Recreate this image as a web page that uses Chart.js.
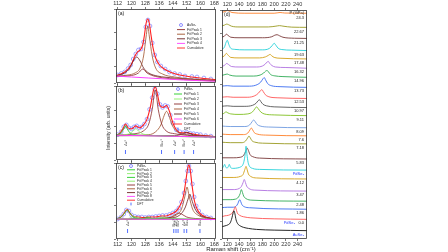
<!DOCTYPE html>
<html><head><meta charset="utf-8">
<script src="https://cdn.jsdelivr.net/npm/chart.js@4.4.0/dist/chart.umd.min.js"></script>
<style>
body{margin:0;background:#fff;width:448px;height:252px;overflow:hidden;position:relative;font-family:"Liberation Sans",Arial,sans-serif}
canvas{position:absolute;left:0;top:0}
.t{position:absolute;color:#222;white-space:nowrap;transform:translate(-50%,-50%)}
</style></head><body>
<canvas id="ca" width="448" height="252"></canvas>
<canvas id="cb" width="448" height="252"></canvas>
<canvas id="cc" width="448" height="252"></canvas>
<canvas id="cd" width="448" height="252"></canvas>
<div class="t" style="left:108px;top:128px;font-size:5px;transform:translate(-50%,-50%) rotate(-90deg)">Intensity (arb. units)</div>
<div class="t" style="left:231px;top:249px;font-size:6px">Raman shift (cm⁻¹)</div>
<script>
// tick labels
var xTicksLeft = [112,120,128,136,144,152,160,168];
var xTicksRight = [120,140,160,180,200,220,240];

// ---- panel (a) AuSe2
var aData = [[112,8],[114,9.5],[116,11],[118,14.5],[119.5,18],[121,24],[122.5,29],[124,33],[125.5,34],[127,41],[128.3,56],[129.5,63],[130.7,57],[132,40],[133.5,28],[135,21],[137,17],[139.5,14],[142,11],[145,9.5],[148,8.5],[151,7],[155,6.5],[158,6],[162,5],[166,4]];
var aPeak1 = [[110,6.5],[120,7.5],[124,10],[126.5,14],[129,10],[134,6.5],[150,3.5],[169,2]];
var aPeak2 = [[110,6.5],[118,8],[122,10],[125,15],[127,27],[128.5,47],[129.4,57],[130.3,47],[132,27],[134,15],[138,9],[145,6],[155,4],[169,2.5]];
var aPeak3 = [[110,7],[116,10],[119,15],[121,22],[123,26],[125,22],[127,15],[130,10],[135,7],[145,5],[169,2.5]];
var aPeak4 = [[110,7],[120,6],[130,5],[140,4],[150,3],[160,2.3],[169,1.8]];
var aCum = [[110,7],[113,8.5],[116,11],[118,14],[120,19],[122,27],[123.5,31],[125,33],[126.5,38],[127.5,48],[128.5,60],[129.4,64],[130.3,60],[131.3,48],[132.5,35],[134,25],[136,18.5],[139,14],[143,10.5],[148,8],[155,6],[162,4.5],[169,3.5]];
var aLegend = ['AuSe₂','Fit Peak 1','Fit Peak 2','Fit Peak 3','Fit Peak 4','Cumulative'];

// ---- panel (b) PdSe2
var bData = [[112,26],[114,29],[115.5,34],[117,36],[118.5,33],[120,32],[121.5,34],[123,35],[124.5,33],[126,34],[127.5,37],[129,42],[130.5,52],[132,64],[133.5,73],[135,68],[136.5,57],[138,54],[139.5,56],[141,55],[142.5,46],[144,38],[146,31],[148,29],[150,28],[152,28.5],[154,27.5],[156,27],[158,26.5],[160,26],[163,25],[166,24.5]];
var bPeak1 = [[110,25.5],[114,28],[115.5,32],[116.5,35],[117.5,32],[119,28],[122,26],[130,25],[169,23.5]];
var bPeak2 = [[110,25.5],[118,26.5],[120.5,29],[122.5,32],[124.5,29],[127,26.5],[135,25],[169,23.5]];
var bPeak3 = [[110,25.5],[122,27],[127,30],[130,37],[132,52],[133.8,72],[135.5,52],[137.5,37],[140,30],[145,27],[155,25],[169,24]];
var bPeak4 = [[110,25],[130,26],[134,29],[137,36],[139,46],[140.3,50],[141.6,46],[143.5,36],[146.5,29],[152,26],[169,24]];
var bPeak5 = [[110,25],[145,25],[150,27],[152,28.5],[154,27],[158,25],[169,24]];
var bPeak6 = [[110,25.5],[140,24.5],[169,23.5]];
var bCum = [[110,25],[113,27],[115,32],[116.5,37],[118,33],[120,32],[122.5,35],[124.5,33],[127,36],[129,42],[131,55],[132.8,72],[133.8,75],[135,68],[136.5,56],[138.5,54],[140.3,56],[142,50],[144,38],[146,31],[149,28],[152,28],[155,27],[158,26],[162,25],[169,24]];
var bLegend = ['PdSe₂','Fit Peak 1','Fit Peak 2','Fit Peak 3','Fit Peak 4','Fit Peak 5','Fit Peak 6','Cumulative','DFT'];
var bDft = [116.5,137.4,145,150.5,156];
var bDftLabels = ['A₉¹','B₁₉¹','A₉²','B₁₉²','A₉³'];

// ---- panel (c) PdSe2 (high P)
var cData = [[112,20],[114,22],[115.5,25],[117,29],[118.5,28],[120,24],[122,22.5],[124,22],[126,22],[128,21.5],[130,22],[132,22],[134,22.5],[136,23],[138,23.5],[140,23.5],[142,24.5],[144,26],[146,28],[147.5,31],[149,37],[150.5,46],[151.5,58],[152.5,68],[153.3,73],[154.3,68],[155.3,55],[156.3,42],[157.5,33],[159,28],[161,24],[163.5,22],[166,21]];
var cPeak1 = [[110,20],[114,22],[116,26],[117.5,29],[119,26],[121,22],[125,20.5],[140,20],[169,19.5]];
var cPeak2 = [[110,20],[118,20.5],[120,21.5],[121.5,22.5],[123,21.5],[126,20.5],[169,19.5]];
var cPeak3 = [[110,20],[125,20.3],[128,21],[129.5,21.8],[131,21],[134,20.3],[169,19.5]];
var cPeak4 = [[110,20],[133,20.3],[136.5,21.3],[138,22],[139.5,21.3],[143,20.3],[169,19.5]];
var cPeak5 = [[110,20],[138,20.5],[143,22],[146,25],[147.5,26],[149,25],[152,22],[157,20.5],[169,19.5]];
var cPeak6 = [[110,20],[140,21],[146,24],[149,30],[151,43],[152.2,52],[153.4,43],[155.4,30],[158.4,24],[164,21],[169,20]];
var cPeak7 = [[110,20],[142,21],[148,24],[151,31],[152.8,40],[153.8,45],[154.8,40],[156.6,31],[159.6,24],[165,21],[169,20]];
var cPeak8 = [[110,20],[169,19.5]];
var cCum = [[110,20],[113,21],[115,24],[117.5,29.5],[119,26],[121,22.5],[124,22],[127,21.5],[130,22],[134,22],[137,23],[140,23],[143,25],[146,28],[148,33],[150,42],[151.5,58],[152.5,70],[153.2,74],[154,70],[155,55],[156.5,38],[158,30],[160,25],[163,22],[169,20]];
var cLegend = ['PdSe₂','Fit Peak 1','Fit Peak 2','Fit Peak 3','Fit Peak 4','Fit Peak 5','Fit Peak 6','Fit Peak 7','Fit Peak 8','Cumulative','DFT'];
var cDft = [117.7,144.5,145.8,147,150.5,152,159.7];
var cDftLabels = ['A₉¹','B₁₉¹','A₉²','B₁₉²','A₉³','B₂₉','B₃₉'];

// ---- panel (d) pressure series, bottom to top
var dLabels = ['AuSe₂','0.0','1.86','2.48','3.47','4.12','PdSe₂','5.83','7.18','7.6','8.09','9.11','10.97','12.53','13.73','14.96','16.32','17.48','19.63','21.25','22.67','24.3'];
var dOffsets = [8,19,29,37,47,59,68,79,94,102,110,122,130,139,150,160,169,178,186,198,209,223];
var dSpectra = [
 [[110,4],[116,5],[121,6],[125,8],[128,13],[130,18],[131.5,20],[133,17],[135,11],[138,7],[142,5],[148,3.5],[156,2.5],[170,1.5],[200,0.8],[256,0.3]],
 [[110,3],[116,4],[122,4.5],[127,6],[130,8],[132,11],[133.5,13],[135,11],[137,7],[141,4.5],[148,3],[160,2],[200,1],[256,0.5]],
 [[110,2],[120,2.5],[130,2.5],[135,3.5],[138,6],[140,9],[141.5,10],[143,8],[145,5],[149,3],[158,2],[256,0.5]],
 [[110,2],[125,2],[134,2.5],[139,4.5],[142,8],[144,12],[146,9],[148,5.5],[152,3],[162,1.5],[256,0.5]],
 [[110,2],[130,2],[140,3],[144,5],[147,9],[149,12],[151,9],[153,5.5],[157,3],[166,1.5],[256,0.5]],
 [[110,2],[130,2],[142,3],[147,5],[150,10],[152,13],[154,9.5],[156,5.5],[160,3],[170,1.5],[256,0.5]],
 [[110,2],[113,3],[115.5,6],[117.5,3],[120,2.5],[122,4],[123.5,6],[125.5,3],[130,2],[138,2.5],[143,3.5],[146,5],[148.5,9],[150.5,16],[152,24],[153.5,16],[155.5,8],[158,4],[163,2],[175,1],[256,0.3]],
 [[110,1.5],[130,1.5],[142,2],[148,4],[151.5,8],[154,11],[156.5,8],[159,4.5],[164,2.5],[175,1.2],[256,0.3]],
 [[110,2],[125,1.5],[145,1.5],[151,3],[154.5,6],[157,8],[159.5,6],[162,3.5],[167,2],[180,1],[256,0.3]],
 [[110,2],[125,1.5],[148,1.5],[155,3],[158.5,6],[161,8],[163.5,6],[166,3.5],[171,2],[185,1],[256,0.3]],
 [[110,2],[125,1.5],[150,1.5],[158,3],[162,6],[165,8],[168,6],[171,3.5],[176,2],[190,1],[256,0.3]],
 [[110,1.5],[114,2.5],[118,4],[121,3],[126,2],[140,1.5],[155,2],[163,4],[167,7],[170,9],[173,7],[177,4],[183,2],[200,1],[256,0.3]],
 [[110,1.5],[120,2],[130,1.5],[150,1.5],[163,2.5],[169,4.5],[172.5,7],[175,8],[177.5,6],[181,3.5],[187,2],[200,1],[256,0.3]],
 [[110,1.5],[120,2],[130,1.5],[155,1.5],[167,3],[173,5.5],[176.5,8],[179,9],[181.5,7],[185,4],[191,2],[205,1],[256,0.3]],
 [[110,1.5],[120,2],[130,1.5],[158,1.5],[171,3],[177,5.5],[180.5,8.5],[183,10],[185.5,7.5],[189,4],[195,2],[210,1],[256,0.3]],
 [[110,2],[116,3],[120,3.5],[124,2.5],[135,1.5],[165,1.5],[176,2.5],[182,4.5],[185.5,6.5],[188,7],[190.5,5.5],[194,3],[200,1.8],[215,1],[256,0.3]],
 [[110,2],[115,3],[119,5],[122,4],[127,2],[140,1.5],[170,1.5],[180,2.5],[185,4.5],[188,6.5],[190,7],[192.5,5],[196,3],[202,1.5],[220,1],[256,0.3]],
 [[110,2],[115,3.5],[118.5,6],[121,4.5],[126,2],[140,1.5],[175,1.5],[185,2.5],[190,4],[193,5],[196,3.5],[200,2],[210,1.2],[256,0.5]],
 [[110,2],[115,4],[118,9],[120,11],[122.5,7],[126,3],[132,2],[150,1.5],[180,1.5],[192,3],[197,6],[200,8],[203,6],[207,3],[213,1.8],[230,1.2],[256,0.8]],
 [[110,2],[115,3],[118.5,5],[121,4],[126,2],[140,1.5],[180,1.5],[196,2.5],[201,4],[205,4.5],[209,3.5],[215,2],[235,1],[256,0.8]],
 [[110,2],[115,3],[119,4],[122,3.5],[127,2],[140,1.2],[190,1.2],[203,2],[209,2.5],[215,2],[230,1],[256,0.8]],
 [[110,1.5],[116,2.5],[120,3.5],[123,3],[128,1.5],[150,0.8],[200,0.8],[210,1.5],[218,1],[256,0.8]]
];
var dColors = ['#111111','#ff5555','#3a6cf0','#2faa55','#b070e0','#d4a017','#22d0d8','#7a3a3a','#9a9a20','#ff7f27','#6f9be0','#80c020','#555555','#ff5555','#3a6cf0','#2faa55','#b070e0','#d4a017','#22d0d8','#7a3a3a','#9a9a20','#ff7f27'];

var CIRC = '#8080ff', RED = '#ff2020', MAG = '#ff40ff', BR1 = '#8b2a2a', BR2 = '#a0522d', BR3 = '#6b1f1f', GR1 = '#22cc22', GR2 = '#88ee66', DFTC = '#4060ff';

function line(p, color, w, base) {
  base = base || 0;
  return {data: p.map(function(q){return {x:q[0], y:q[1]+base};}), borderColor: color, borderWidth: w || 0.8,
    pointRadius: 0, cubicInterpolationMode: 'monotone', fill: false};
}
function dots(p, color) {
  return {data: p.map(function(q){return {x:q[0], y:q[1]};}), showLine: false, pointRadius: 1.9,
    pointBorderWidth: 0.7, pointBorderColor: color, pointBackgroundColor: 'rgba(0,0,0,0)', borderColor: color};
}

var boxPlugin = {id: 'box', afterDraw: function(c) {
  var a = c.chartArea, ctx = c.ctx;
  ctx.save(); ctx.strokeStyle = '#333'; ctx.lineWidth = 0.8;
  ctx.strokeRect(a.left + 0.5, a.top + 0.5, a.right - a.left - 1, a.bottom - a.top - 1);
  ctx.restore();
}};

function legendPlugin(x, y, dy, labels, colors, kinds, tag) {
  return {id: 'lg', afterDraw: function(c) {
    var ctx = c.ctx; ctx.save();
    ctx.font = '3.3px "Liberation Sans"'; ctx.textBaseline = 'middle';
    labels.forEach(function(t, i) {
      var yy = y + i * dy; ctx.strokeStyle = colors[i]; ctx.lineWidth = 0.9;
      ctx.beginPath();
      if (kinds[i] === 'o') { ctx.arc(x + 4, yy, 1.5, 0, 7); }
      else if (kinds[i] === '|') { ctx.moveTo(x + 4, yy - 1.4); ctx.lineTo(x + 4, yy + 1.4); }
      else { ctx.moveTo(x, yy); ctx.lineTo(x + 8, yy); }
      ctx.stroke();
      ctx.fillStyle = '#222'; ctx.fillText(t, x + 10, yy);
    });
    ctx.font = '5px "Liberation Sans"'; ctx.textBaseline = 'top';
    ctx.fillText(tag, c.chartArea.left + 2, c.chartArea.top + 2);
    ctx.restore();
  }};
}

function dftPlugin(vals, labels, yTick, yText) {
  return {id: 'dft', afterDraw: function(c) {
    var ctx = c.ctx, sx = c.scales.x; ctx.save();
    ctx.strokeStyle = DFTC; ctx.lineWidth = 0.9;
    ctx.font = '4px "DejaVu Sans"'; ctx.fillStyle = '#333'; ctx.textBaseline = 'middle'; ctx.textAlign = 'center';
    vals.forEach(function(v, i) {
      var px = sx.getPixelForValue(v);
      ctx.beginPath(); ctx.moveTo(px, yTick - 2); ctx.lineTo(px, yTick + 2); ctx.stroke();
      ctx.save(); ctx.translate(px, yText); ctx.rotate(-Math.PI / 2); ctx.fillText(labels[i], 0, 0); ctx.restore();
    });
    ctx.restore();
  }};
}

function axis(pos, min, max, ticks, show, h) {
  return {type: 'linear', position: pos, min: min, max: max,
    afterBuildTicks: function(s){ s.ticks = ticks.map(function(v){return {value: v};}); },
    afterFit: function(s){ s.height = h; },
    ticks: {display: show, font: {size: 5.5, family: 'Liberation Sans'}, color: '#333', padding: 0, maxRotation: 0, autoSkip: false},
    grid: {drawOnChartArea: false, tickLength: 2, color: '#444', lineWidth: 0.7},
    border: {display: false}};
}

function panel(id, area, xr, yMax, ticks, showTop, showBottom, sets, extra) {
  var topH = showTop ? 9 : 2, botH = showBottom ? 9 : 2;
  return new Chart(document.getElementById(id), {
    type: 'line',
    data: {datasets: sets},
    options: {
      responsive: false, animation: false, events: [],
      layout: {padding: {left: area[0] - 2, top: area[1] - topH, right: 448 - area[2], bottom: 252 - area[3] - botH}},
      plugins: {legend: {display: false}, tooltip: {enabled: false}},
      scales: {
        x: axis('bottom', xr[0], xr[1], ticks, showBottom, botH),
        x2: axis('top', xr[0], xr[1], ticks, showTop, topH),
        y: {min: 0, max: yMax, afterFit: function(s){ s.width = 2; }, ticks: {display: false, stepSize: 17},
          grid: {drawOnChartArea: false, tickLength: 2, color: '#444', lineWidth: 0.7}, border: {display: false}}
      }
    },
    plugins: [boxPlugin].concat(extra)
  });
}

panel('ca', [116, 9, 216, 83], [111, 169], 74, xTicksLeft, true, false, [
  line(aPeak4, MAG, 1), line(aPeak1, BR1), line(aPeak2, BR2), line(aPeak3, BR3), line(aCum, RED, 1.1), dots(aData, CIRC)
], [legendPlugin(177, 25, 4.6, aLegend, [CIRC, BR1, BR2, BR3, MAG, RED], ['o','-','-','-','-','-'], '(a)')]);

panel('cb', [116, 86, 216, 160], [111, 169], 76, xTicksLeft, false, false, [
  line(bPeak6, MAG, 1), line(bPeak1, GR1), line(bPeak2, GR2), line(bPeak3, BR1), line(bPeak4, BR2), line(bPeak5, BR3), line(bCum, RED, 1.1), dots(bData, CIRC)
], [legendPlugin(174, 89, 5, bLegend, [CIRC, GR1, GR2, BR1, BR2, BR3, MAG, RED, DFTC], ['o','-','-','-','-','-','-','-','|'], '(b)'),
    dftPlugin(bDft, bDftLabels, 152, 143)]);

panel('cc', [116, 163, 216, 239], [111, 169], 76, xTicksLeft, false, true, [
  line(cPeak8, MAG, 1), line(cPeak1, GR1), line(cPeak2, GR2), line(cPeak3, GR1), line(cPeak4, GR2), line(cPeak5, BR1), line(cPeak6, BR2), line(cPeak7, BR3), line(cCum, RED, 1.1), dots(cData, CIRC)
], [legendPlugin(127, 166, 3.8, cLegend, [CIRC, GR1, GR2, GR1, GR2, BR1, BR2, BR3, MAG, RED, DFTC], ['o','-','-','-','-','-','-','-','-','-','|'], '(c)'),
    dftPlugin(cDft, cDftLabels, 231, 223)]);

var dSets = dSpectra.map(function(s, i){ return line(s, dColors[i], 0.9, dOffsets[i]); });
var dText = {id: 'dtext', afterDraw: function(c) {
  var ctx = c.ctx, sy = c.scales.y; ctx.save();
  ctx.font = '4px "Liberation Sans"'; ctx.textAlign = 'right'; ctx.textBaseline = 'middle';
  ctx.fillStyle = '#222'; ctx.fillText('P (GPa)', 304, 13);
  dLabels.forEach(function(t, i) {
    var py = sy.getPixelForValue(dOffsets[i]) + 3.5;
    ctx.fillStyle = (t.indexOf('Se') >= 0) ? '#2a3cff' : '#222';
    ctx.fillText(t, 304, py);
    if (t === '0.0') { ctx.fillStyle = '#2a3cff'; ctx.fillText('PdSe₂', 295, py); }
  });
  ctx.fillStyle = '#222'; ctx.font = '5px "Liberation Sans"'; ctx.textAlign = 'left'; ctx.textBaseline = 'top';
  ctx.fillText('(d)', c.chartArea.left + 2, c.chartArea.top + 2);
  ctx.restore();
}};
panel('cd', [222, 10, 307, 239], [111, 256], 227, xTicksRight, true, true, dSets, [dText]);
</script>
</body></html>
